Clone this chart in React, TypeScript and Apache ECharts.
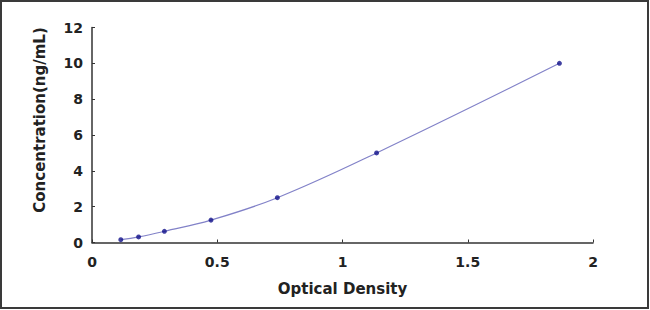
import React, { useEffect, useRef } from "react";
import * as echarts from "echarts";

const odValues = [0.115, 0.186, 0.289, 0.475, 0.74, 1.136, 1.866];
const concValues = [0.156, 0.312, 0.625, 1.25, 2.5, 5, 10];
const xTicks = [0, 0.5, 1, 1.5, 2];
const yTicks = [0, 2, 4, 6, 8, 10, 12];

export default function App() {
  const ref = useRef<HTMLDivElement>(null);
  useEffect(() => {
    if (!ref.current) return;
    const chart = echarts.init(ref.current, null, { renderer: "svg" });
    const pts = odValues.map((x, i) => [x, concValues[i]]);
    const font = "DejaVu Sans";
    chart.setOption({
      animation: false,
      backgroundColor: "#ffffff",
      grid: { left: 92, right: 57, top: 27.5, bottom: 67.5 },
      xAxis: {
        type: "value",
        min: xTicks[0],
        max: xTicks[xTicks.length - 1],
        interval: 0.5,
        name: "Optical Density",
        nameLocation: "middle",
        nameGap: 39,
        nameTextStyle: { fontFamily: font, fontWeight: "bold", fontSize: 15, color: "#222" },
        axisLine: { lineStyle: { color: "#333", width: 1.5 } },
        axisTick: { inside: true, length: 3, lineStyle: { color: "#333", width: 1 } },
        splitLine: { show: false },
        axisLabel: {
          margin: 12,
          fontFamily: font,
          fontWeight: "bold",
          fontSize: 14,
          color: "#222",
          formatter: (v: number) => String(v),
        },
      },
      yAxis: {
        type: "value",
        min: yTicks[0],
        max: yTicks[yTicks.length - 1],
        interval: 2,
        name: "Concentration(ng/mL)",
        nameLocation: "middle",
        nameGap: 45,
        nameTextStyle: {
          fontFamily: font,
          fontWeight: "bold",
          fontSize: 15,
          color: "#222",
          padding: [0, 0, 0, 30],
        },
        axisLine: { show: true, lineStyle: { color: "#333", width: 1.5 } },
        axisTick: { show: true, inside: true, length: 3, lineStyle: { color: "#333", width: 1 } },
        splitLine: { show: false },
        axisLabel: { margin: 9, fontFamily: font, fontWeight: "bold", fontSize: 14, color: "#222" },
      },
      graphic: [
        {
          type: "rect",
          shape: { x: 1, y: 1, width: 647, height: 307 },
          style: { fill: "none", stroke: "#3a3a3a", lineWidth: 2 },
          silent: true,
        },
      ],
      series: [
        {
          type: "line",
          data: pts,
          smooth: 0.4,
          symbol: "none",
          lineStyle: { color: "#8282c8", width: 1.2 },
          z: 2,
        },
        {
          type: "scatter",
          data: pts,
          symbol: "circle",
          symbolSize: 5,
          itemStyle: { color: "#10108a" },
          z: 3,
        },
      ],
    });
    return () => chart.dispose();
  }, []);
  return (
    <div
      ref={ref}
      style={{ position: "fixed", left: 0, top: 0, width: 650, height: 310 }}
    />
  );
}
